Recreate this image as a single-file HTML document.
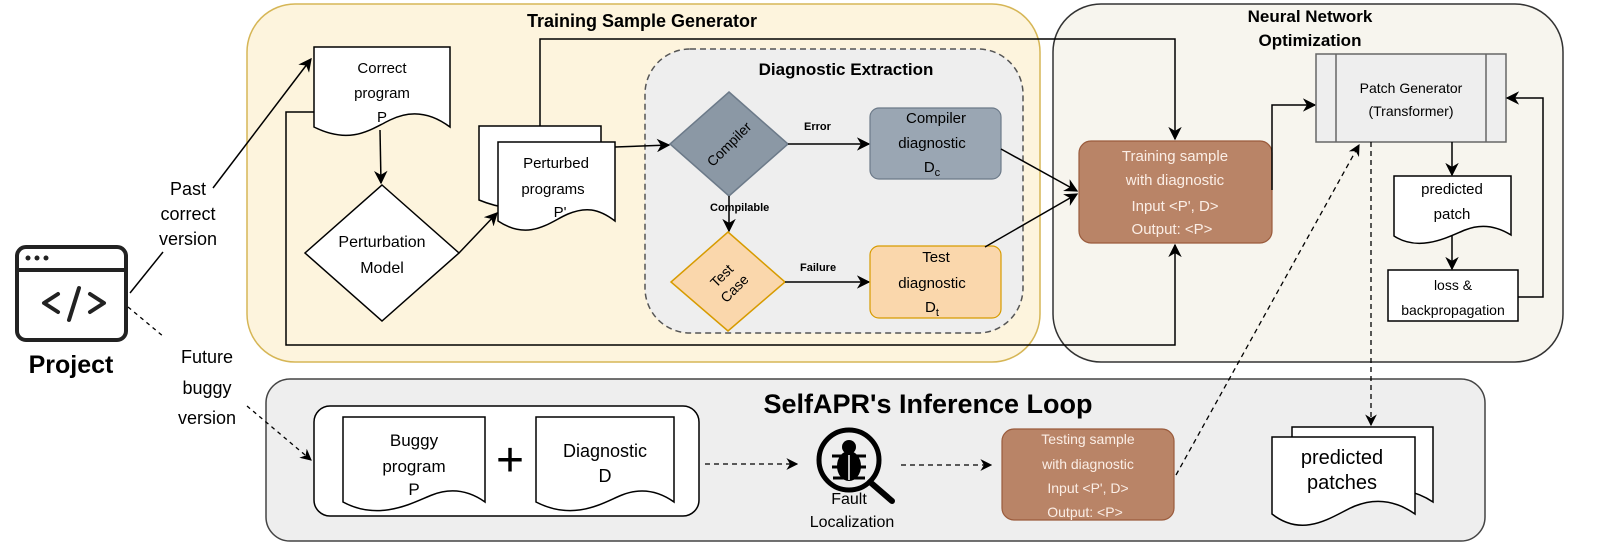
<!DOCTYPE html>
<html><head><meta charset="utf-8"><style>
html,body{margin:0;padding:0;background:#fff;}
svg{display:block;font-family:"Liberation Sans",Arial,sans-serif;}
</style></head><body>
<svg width="1614" height="558" viewBox="0 0 1614 558" xmlns="http://www.w3.org/2000/svg">
<defs>
<marker id="a" viewBox="0 0 10 10" refX="9" refY="5" markerWidth="9" markerHeight="9" orient="auto"><path d="M0,0 L10,5 L0,10 L3,5 Z" fill="#000"/></marker>
</defs>
<!-- Training Sample Generator -->
<rect x="247" y="4" width="793" height="358" rx="48" fill="#fdf4dd" stroke="#d6b656" stroke-width="1.5"/>
<text x="642" y="27" font-size="18" font-weight="bold" text-anchor="middle">Training Sample  Generator</text>
<!-- Neural network -->
<rect x="1053" y="4" width="510" height="358" rx="48" fill="#f7f5ee" stroke="#333" stroke-width="1.5"/>
<text x="1310" y="22" font-size="17" font-weight="bold" text-anchor="middle">Neural Network</text>
<text x="1310" y="46" font-size="17" font-weight="bold" text-anchor="middle">Optimization</text>
<!-- Diagnostic extraction -->
<rect x="645" y="49" width="378" height="284" rx="45" fill="#eeeeee" stroke="#555" stroke-width="1.5" stroke-dasharray="6,4"/>
<text x="846" y="75" font-size="17" font-weight="bold" text-anchor="middle">Diagnostic Extraction</text>
<!-- Inference -->
<rect x="266" y="379" width="1219" height="162" rx="24" fill="#eeeeee" stroke="#444" stroke-width="1.5"/>
<text x="928" y="413" font-size="27" font-weight="bold" text-anchor="middle">SelfAPR's Inference Loop</text>
<rect x="314" y="406" width="385" height="110" rx="16" fill="#fff" stroke="#000" stroke-width="1.5"/>

<!-- loop lines -->
<polyline points="314,112 286,112 286,345 1175,345 1175,245" fill="none" stroke="#000" stroke-width="1.5" marker-end="url(#a)"/>
<polyline points="540,126 540,39 1175,39 1175,139" fill="none" stroke="#000" stroke-width="1.5" marker-end="url(#a)"/>

<!-- Correct program -->
<path d="M314,47 H450 V127 C430,112 410,110 390,120 S350,145 314,127 Z" fill="#fff" stroke="#000" stroke-width="1.5"/>
<text font-size="15" text-anchor="middle"><tspan x="382" y="73">Correct</tspan><tspan x="382" y="98">program</tspan><tspan x="382" y="122">P</tspan></text>
<line x1="380" y1="130" x2="381" y2="183" stroke="#000" stroke-width="1.5" marker-end="url(#a)"/>
<!-- Perturbation diamond -->
<polygon points="382,185 459,253 382,321 305,253" fill="#fff" stroke="#000" stroke-width="1.5"/>
<text font-size="16" text-anchor="middle"><tspan x="382" y="247">Perturbation</tspan><tspan x="382" y="273">Model</tspan></text>
<line x1="459" y1="253" x2="497" y2="213" stroke="#000" stroke-width="1.5" marker-end="url(#a)"/>
<!-- Perturbed programs -->
<path d="M479,126 H601 V200 C585,190 570,190 555,198 S515,215 479,200 Z" fill="#fff" stroke="#000" stroke-width="1.5"/>
<path d="M498,142 H615 V221 C598,208 585,207 568,214 S530,242 498,221 Z" fill="#fff" stroke="#000" stroke-width="1.5"/>
<text font-size="15" text-anchor="middle"><tspan x="556" y="168">Perturbed</tspan><tspan x="553" y="194">programs</tspan><tspan x="560" y="217">P'</tspan></text>
<line x1="615" y1="147" x2="669" y2="145" stroke="#000" stroke-width="1.5" marker-end="url(#a)"/>
<!-- Compiler diamond -->
<polygon points="729,92 788,144 729,196 670,144" fill="#8b98a5" stroke="#6c7a89" stroke-width="1.5"/>
<text x="729" y="149" font-size="14" text-anchor="middle" transform="rotate(-45 729 144)">Compiler</text>
<line x1="729" y1="196" x2="729" y2="231" stroke="#000" stroke-width="1.5" marker-end="url(#a)"/>
<text x="710" y="211" font-size="11" font-weight="bold">Compilable</text>
<!-- Test case diamond -->
<polygon points="728,232 785,282 728,331 671,282" fill="#fad7ac" stroke="#d79b00" stroke-width="1.5"/>
<text font-size="14" text-anchor="middle" transform="rotate(-45 728 282)"><tspan x="728" y="278">Test</tspan><tspan x="728" y="296">Case</tspan></text>
<!-- Error -->
<line x1="788" y1="144" x2="869" y2="144" stroke="#000" stroke-width="1.5" marker-end="url(#a)"/>
<text x="804" y="130" font-size="11" font-weight="bold">Error</text>
<rect x="870" y="108" width="131" height="71" rx="9" fill="#9aa6b3" stroke="#6c7a89" stroke-width="1.2"/>
<text font-size="15" text-anchor="middle"><tspan x="936" y="123">Compiler</tspan><tspan x="932" y="148">diagnostic</tspan><tspan x="932" y="172">D</tspan><tspan font-size="11" dy="4">c</tspan></text>
<!-- Failure -->
<line x1="785" y1="282" x2="869" y2="282" stroke="#000" stroke-width="1.5" marker-end="url(#a)"/>
<text x="800" y="271" font-size="11" font-weight="bold">Failure</text>
<rect x="870" y="246" width="131" height="72" rx="9" fill="#fad7ac" stroke="#d79b00" stroke-width="1.2"/>
<text font-size="15" text-anchor="middle"><tspan x="936" y="262">Test</tspan><tspan x="932" y="288">diagnostic</tspan><tspan x="932" y="312">D</tspan><tspan font-size="11" dy="4">t</tspan></text>
<line x1="1001" y1="149" x2="1077" y2="191" stroke="#000" stroke-width="1.5" marker-end="url(#a)"/>
<line x1="985" y1="247" x2="1077" y2="194" stroke="#000" stroke-width="1.5" marker-end="url(#a)"/>
<!-- Training sample -->
<rect x="1079" y="141" width="193" height="102" rx="12" fill="#b98467" stroke="#9a5b3c" stroke-width="1.2"/>
<text font-size="15" text-anchor="middle" fill="#fbeee6"><tspan x="1175" y="161">Training sample</tspan><tspan x="1175" y="185">with diagnostic</tspan><tspan x="1175" y="211">Input &lt;P', D&gt;</tspan><tspan x="1172" y="234">Output: &lt;P&gt;</tspan></text>
<polyline points="1272,190 1272,105 1315,105" fill="none" stroke="#000" stroke-width="1.5" marker-end="url(#a)"/>
<!-- Patch generator -->
<rect x="1316" y="54" width="190" height="88" fill="#eeeeee" stroke="#666" stroke-width="1.5"/>
<line x1="1336" y1="54" x2="1336" y2="142" stroke="#666" stroke-width="1.5"/>
<line x1="1486" y1="54" x2="1486" y2="142" stroke="#666" stroke-width="1.5"/>
<text font-size="14" text-anchor="middle"><tspan x="1411" y="93">Patch Generator</tspan><tspan x="1411" y="116">(Transformer)</tspan></text>
<line x1="1452" y1="142" x2="1452" y2="175" stroke="#000" stroke-width="1.5" marker-end="url(#a)"/>
<path d="M1394,176 H1511 V235 C1495,225 1480,224 1465,230 S1420,253 1394,236 Z" fill="#fff" stroke="#000" stroke-width="1.5"/>
<text font-size="15" text-anchor="middle"><tspan x="1452" y="194">predicted</tspan><tspan x="1452" y="219">patch</tspan></text>
<line x1="1452" y1="236" x2="1452" y2="269" stroke="#000" stroke-width="1.5" marker-end="url(#a)"/>
<rect x="1388" y="270" width="130" height="51" fill="#fff" stroke="#000" stroke-width="1.5"/>
<text font-size="14" text-anchor="middle"><tspan x="1453" y="290">loss &amp;</tspan><tspan x="1453" y="315">backpropagation</tspan></text>
<polyline points="1518,297 1543,297 1543,98 1507,98" fill="none" stroke="#000" stroke-width="1.5" marker-end="url(#a)"/>
<!-- dashed -->
<line x1="1371" y1="142" x2="1371" y2="425" stroke="#000" stroke-width="1.3" stroke-dasharray="5,4" marker-end="url(#a)"/>
<line x1="1176" y1="475" x2="1359" y2="145" stroke="#000" stroke-width="1.3" stroke-dasharray="5,4" marker-end="url(#a)"/>
<!-- Project icon -->
<rect x="17" y="247" width="109" height="93" rx="9" fill="#fff" stroke="#222" stroke-width="4"/>
<line x1="17" y1="270" x2="126" y2="270" stroke="#222" stroke-width="4"/>
<circle cx="28" cy="258" r="2.5" fill="#222"/><circle cx="37" cy="258" r="2.5" fill="#222"/><circle cx="46" cy="258" r="2.5" fill="#222"/>
<polyline points="58,294 44,303 58,312" fill="none" stroke="#222" stroke-width="4" stroke-linecap="round" stroke-linejoin="round"/>
<line x1="79" y1="288" x2="69" y2="320" stroke="#222" stroke-width="4" stroke-linecap="round"/>
<polyline points="90,294 104,303 90,312" fill="none" stroke="#222" stroke-width="4" stroke-linecap="round" stroke-linejoin="round"/>
<text x="71" y="373" font-size="25" font-weight="bold" text-anchor="middle">Project</text>
<text font-size="18" text-anchor="middle"><tspan x="188" y="195">Past</tspan><tspan x="188" y="220">correct</tspan><tspan x="188" y="245">version</tspan></text>
<line x1="130" y1="293" x2="163" y2="252" stroke="#000" stroke-width="1.5"/>
<line x1="213" y1="188" x2="311" y2="59" stroke="#000" stroke-width="1.5" marker-end="url(#a)"/>
<text font-size="18" text-anchor="middle"><tspan x="207" y="363">Future</tspan><tspan x="207" y="394">buggy</tspan><tspan x="207" y="424">version</tspan></text>
<line x1="128" y1="307" x2="164" y2="337" stroke="#000" stroke-width="1.3" stroke-dasharray="4,4"/>
<line x1="247" y1="406" x2="311" y2="460" stroke="#000" stroke-width="1.3" stroke-dasharray="4,4" marker-end="url(#a)"/>
<!-- inference contents -->
<path d="M343,417 H485 V502 C468,490 450,488 432,495 S380,522 343,502 Z" fill="#fff" stroke="#000" stroke-width="1.5"/>
<text font-size="17" text-anchor="middle"><tspan x="414" y="446">Buggy</tspan><tspan x="414" y="472">program</tspan><tspan x="414" y="495">P</tspan></text>
<text x="510" y="476" font-size="48" text-anchor="middle">+</text>
<path d="M536,417 H674 V502 C657,490 640,488 622,495 S575,522 536,502 Z" fill="#fff" stroke="#000" stroke-width="1.5"/>
<text font-size="18" text-anchor="middle"><tspan x="605" y="457">Diagnostic</tspan><tspan x="605" y="482">D</tspan></text>
<line x1="705" y1="464" x2="797" y2="464" stroke="#000" stroke-width="1.3" stroke-dasharray="5,4" marker-end="url(#a)"/>
<!-- bug icon -->
<circle cx="849" cy="460" r="30" fill="none" stroke="#000" stroke-width="5"/>
<line x1="870" y1="482" x2="892" y2="501" stroke="#000" stroke-width="6" stroke-linecap="round"/>
<ellipse cx="849" cy="466" rx="12" ry="15" fill="#000"/>
<circle cx="849" cy="447" r="7" fill="#000"/>
<g stroke="#000" stroke-width="3"><line x1="832" y1="456" x2="866" y2="456"/><line x1="832" y1="467" x2="866" y2="467"/><line x1="833" y1="478" x2="865" y2="478"/></g>
<line x1="849" y1="455" x2="849" y2="480" stroke="#fff" stroke-width="1.5"/>
<text font-size="16" text-anchor="middle"><tspan x="849" y="504">Fault</tspan><tspan x="852" y="527">Localization</tspan></text>
<line x1="901" y1="465" x2="991" y2="465" stroke="#000" stroke-width="1.3" stroke-dasharray="5,4" marker-end="url(#a)"/>
<rect x="1002" y="429" width="172" height="91" rx="12" fill="#b98467" stroke="#9a5b3c" stroke-width="1.2"/>
<text font-size="14" text-anchor="middle" fill="#fbeee6"><tspan x="1088" y="444">Testing sample</tspan><tspan x="1088" y="469">with diagnostic</tspan><tspan x="1088" y="493">Input &lt;P', D&gt;</tspan><tspan x="1085" y="517">Output: &lt;P&gt;</tspan></text>
<path d="M1292,427 H1433 V502 C1415,490 1398,488 1380,495 S1330,522 1292,502 Z" fill="#fff" stroke="#000" stroke-width="1.5"/>
<path d="M1272,437 H1415 V514 C1395,500 1375,498 1355,506 S1305,540 1272,514 Z" fill="#fff" stroke="#000" stroke-width="1.5"/>
<text font-size="20" text-anchor="middle"><tspan x="1342" y="464">predicted</tspan><tspan x="1342" y="489">patches</tspan></text>
</svg>
</body></html>
